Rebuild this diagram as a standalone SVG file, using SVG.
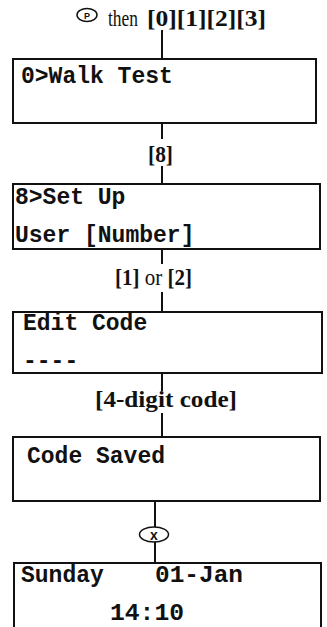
<svg xmlns="http://www.w3.org/2000/svg" width="327" height="627" viewBox="0 0 327 627">
<style>
.box{fill:#fff;stroke:#111;stroke-width:2}
.lcd{font-family:"Liberation Mono","Courier New",monospace;font-weight:bold;font-size:23px;fill:#111}
.lbl{font-family:"Liberation Serif","Times New Roman",serif;font-size:24px;fill:#111}
.b{font-weight:bold}
.n{font-weight:normal}
.conn line{stroke:#111;stroke-width:2}
.key{fill:#fff;stroke:#111;stroke-width:1.5}
.keytxt{font-family:"Liberation Sans",Arial,sans-serif;fill:#111;text-anchor:middle}
</style>
<rect width="327" height="627" fill="#fff"/>
<g id="connectors" class="conn">
<line x1="162" y1="30" x2="162" y2="59"/>
<line x1="162" y1="123" x2="162" y2="139"/>
<line x1="162" y1="166" x2="162" y2="184"/>
<line x1="162" y1="249" x2="162" y2="264"/>
<line x1="162" y1="292" x2="162" y2="312"/>
<line x1="162" y1="373" x2="162" y2="391"/>
<line x1="162" y1="413" x2="162" y2="437"/>
<line x1="155" y1="501" x2="155" y2="527"/>
<line x1="155" y1="542" x2="155" y2="563"/>
</g>
<g id="title">
<ellipse class="key" cx="87" cy="15" rx="10" ry="6.5"/>
<text class="keytxt" x="87" y="18.5" font-size="9" font-weight="bold">P</text>
<text class="lbl n" x="108" y="26" font-size="22" textLength="30" lengthAdjust="spacingAndGlyphs">then</text>
<text class="lbl b" x="147" y="26" textLength="119" lengthAdjust="spacingAndGlyphs">[0][1][2][3]</text>
</g>
<g id="node-walk-test">
<rect class="box" x="13" y="59" width="303" height="64"/>
<text class="lcd" x="21" y="83">0&gt;Walk Test</text>
</g>
<g id="label-8">
<text class="lbl b" x="148" y="162" textLength="25" lengthAdjust="spacingAndGlyphs">[8]</text>
</g>
<g id="node-setup">
<rect class="box" x="13" y="184" width="307" height="65"/>
<text class="lcd" x="15" y="204">8&gt;Set Up</text>
<text class="lcd" x="15" y="242">User [Number]</text>
</g>
<g id="label-1or2">
<text class="lbl" x="115" y="285" textLength="77" lengthAdjust="spacingAndGlyphs"><tspan class="b">[1]</tspan> <tspan class="n">or</tspan> <tspan class="b">[2]</tspan></text>
</g>
<g id="node-edit-code">
<rect class="box" x="13" y="312" width="309" height="61"/>
<text class="lcd" x="23" y="330">Edit Code</text>
<text class="lcd" x="23" y="368">----</text>
</g>
<g id="label-4digit">
<text class="lbl b" x="95" y="407" textLength="142" lengthAdjust="spacingAndGlyphs">[4-digit code]</text>
</g>
<g id="node-code-saved">
<rect class="box" x="13" y="437" width="307" height="64"/>
<text class="lcd" x="27" y="463">Code Saved</text>
</g>
<g id="key-x">
<ellipse class="key" cx="154" cy="534.5" rx="14.5" ry="7.5"/>
<text class="keytxt" x="154" y="539.5" font-size="14" font-weight="bold">x</text>
</g>
<g id="node-date-time">
<rect class="box" x="14" y="563" width="307" height="70"/>
<text class="lcd" x="21" y="582">Sunday</text>
<text class="lcd" x="155" y="582" textLength="88" lengthAdjust="spacingAndGlyphs">01-Jan</text>
<text class="lcd" x="110" y="620" textLength="74" lengthAdjust="spacingAndGlyphs">14:10</text>
</g>
</svg>
